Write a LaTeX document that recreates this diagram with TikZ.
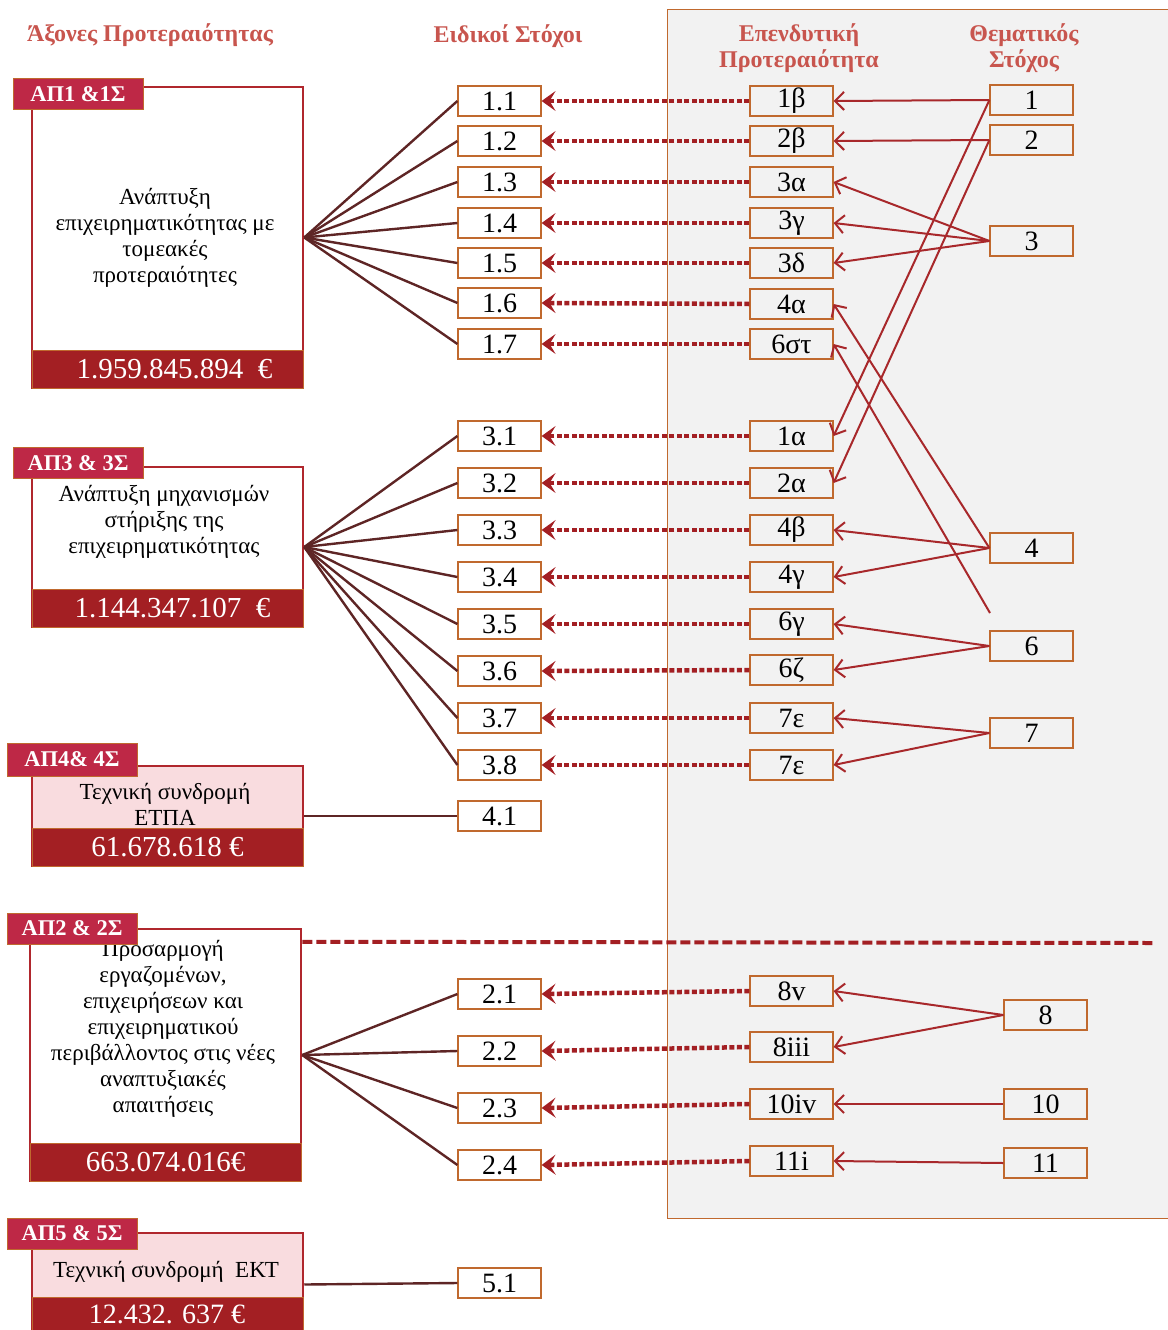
\documentclass[tikz,border=0pt]{standalone}
\usepackage{fontspec}
\setmainfont{Liberation Serif}
\usetikzlibrary{arrows.meta,positioning}
\definecolor{panelgray}{HTML}{F2F2F2}
\definecolor{boxedge}{HTML}{C0692E}
\definecolor{tagred}{HTML}{BE2846}
\definecolor{bandred}{HTML}{A31F23}
\definecolor{axedge}{HTML}{B0272D}
\definecolor{pinkfill}{HTML}{F9DCDF}
\definecolor{fanbrown}{HTML}{5E2525}
\definecolor{arrred}{HTML}{A8282B}
\definecolor{headred}{HTML}{C8554E}

\begin{document}
\begin{tikzpicture}
	[x=1pt,y=-1pt,
	smallbox/.style={draw=boxedge,line width=1.2pt,inner sep=0pt,minimum width=83pt,
		minimum height=30pt,font=\fontsize{28}{30}\selectfont},
	sobox/.style={smallbox,fill=white},
	ipbox/.style={smallbox,fill=panelgray},
	axbox/.style={draw=axedge,line width=2.5pt,minimum width=271pt,inner sep=0pt},
	band/.style={fill=bandred,draw=boxedge,line width=0.8pt,minimum width=271pt,
		minimum height=38pt,inner sep=0pt,text=white,font=\fontsize{29}{30}\selectfont},
	tag/.style={fill=tagred,draw=boxedge,line width=0.8pt,minimum width=130pt,
		minimum height=31pt,inner sep=0pt,text=white,font=\fontsize{22.5}{24}\selectfont\bfseries},
	axtext/.style={align=center,font=\fontsize{23}{26}\selectfont},
	head/.style={align=center,text=headred,font=\fontsize{24}{26}\selectfont\bfseries},
	fan/.style={draw=fanbrown,line width=2.4pt},
	dotarrow/.style={draw=bandred,line width=4.5pt,dash pattern=on 5pt off 2.5pt,
		-{Stealth[length=14pt,width=20pt,inset=6pt]}},
	toarrow/.style={draw=arrred,line width=2pt,-{Straight Barb[length=9pt,width=18pt]}}]
	\useasboundingbox (0,0) rectangle (1167,1330);
	% panel
	\fill[panelgray,draw=boxedge,line width=1pt] (667,10) rectangle (1180,1218);
	% headers
	\node[head] (h1) at (150,35) {Άξονες Προτεραιότητας};
	\node[head] (h2) at (508,36) {Ειδικοί Στόχοι};
	\node[head] (h3) at (799,48) {Επενδυτική\\Προτεραιότητα};
	\node[head] (h4) at (1024,48) {Θεματικός\\Στόχος};
	% axes
	\node[axbox,minimum height=301pt] (ax1) at (167.5,237.5) {};
	\node[band] (b1) at (167.5,369) {\hspace{14pt}1.959.845.894\ \ €};
	\node[axtext] (x1) at (165,238) {Ανάπτυξη\\επιχειρηματικότητας με\\τομεακές\\προτεραιότητες};
	\node[tag] (g1) at (78,94) {ΑΠ1 \&1Σ};
	\node[axbox,minimum height=160pt] (ax3) at (167.5,547) {};
	\node[band] (b3) at (167.5,608) {\hspace{10pt}1.144.347.107\ \ €};
	\node[axtext] (x3) at (164,522) {Ανάπτυξη μηχανισμών\\στήριξης της\\επιχειρηματικότητας};
	\node[tag] (g3) at (78,463) {ΑΠ3 \& 3Σ};
	\node[axbox,fill=pinkfill,minimum height=100pt] (ax4) at (167.5,816) {};
	\node[band] (b4) at (167.5,847) {61.678.618 €};
	\node[axtext] (x4) at (165,804) {Τεχνική συνδρομή\\ΕΤΠΑ};
	\node[tag,minimum height=33pt] (g4) at (72,759.5) {ΑΠ4\& 4Σ};
	\node[axbox,minimum height=252pt] (ax2) at (165.5,1055) {};
	\node[band] (b2) at (165.5,1162) {663.074.016€};
	\node[axtext] (x2) at (163,1029) {Προσαρμογή\\εργαζομένων,\\επιχειρήσεων και\\επιχειρηματικού\\περιβάλλοντος στις νέες\\αναπτυξιακές\\απαιτήσεις};
	\node[tag] (g2) at (72,928.5) {ΑΠ2 \& 2Σ};
	\node[axbox,fill=pinkfill,minimum height=107pt] (ax5) at (167.5,1286.5) {};
	\node[band,minimum height=43pt] (b5) at (167.5,1318.5) {};
	\node[text=white,font=\fontsize{28}{30}\selectfont] (v5) at (167,1314) {12.432. 637 €};
	\node[axtext] (x5) at (166,1272) {Τεχνική συνδρομή\ \ ΕΚΤ};
	\node[tag] (g5) at (72,1233.5) {ΑΠ5 \& 5Σ};
	% separator
	\draw[bandred,line width=4pt,dash pattern=on 10pt off 4pt] (ax2.north east) ++(0,14) -- (1153,943);
	% specific objectives
	\foreach \n/\y/\t in {s11/101/1.1,s12/141/1.2,s13/182/1.3,s14/223/1.4,s15/263/1.5,
		s16/303/1.6,s17/344/1.7,s31/436/3.1,s32/483/3.2,s33/530/3.3,s34/577/3.4,
		s35/624/3.5,s36/671/3.6,s37/718/3.7,s38/765/3.8,s41/816/4.1,
		s21/994/2.1,s22/1051/2.2,s23/1108/2.3,s24/1165/2.4,s51/1283/5.1}
	\node[sobox] (\n) at (499.5,\y) {\t};
	% investment priorities
	\foreach \n/\y/\t in {p1b/101/1β,p2b/141/2β,p3a/182/3α,p3g/223/3γ,p3d/263/3δ,
		p4a/304/4α,p6st/344/6στ,p1a/436/1α,p2a/483/2α,p4b/530/4β,p4g/577/4γ,
		p6g/624/6γ,p6z/670/6ζ,p7e/718/7ε,p7f/765/7ε,
		p8v/991/8v,p8iii/1047/8iii,p10iv/1104/10iv,p11i/1161/11i}
	\node[ipbox] (\n) at (791.5,\y) {\t};
	% thematic objectives
	\foreach \n/\x/\y/\t in {t1/1031.5/100/1,t2/1031.5/140/2,t3/1031.5/241/3,
		t4/1031.5/548/4,t6/1031.5/646/6,t7/1031.5/733/7,
		t8/1045.5/1015/8,t10/1045.5/1104/10,t11/1045.5/1163/11}
	\node[ipbox] (\n) at (\x,\y) {\t};
	\coordinate (c6) at (990,613);
	% fans
	\foreach \s in {s11,s12,s13,s14,s15,s16,s17}
	\draw[fan] (ax1.east) -- (\s.west);
	\foreach \s in {s31,s32,s33,s34,s35,s36,s37,s38}
	\draw[fan] (ax3.east) -- (\s.west);
	\foreach \s in {s21,s22,s23,s24}
	\draw[fan] (ax2.east) -- (\s.west);
	\draw[fan] (ax4.east) -- (s41.west);
	\draw[fan] (ax5.east) ++(0,-2) -- (s51.west);
	% dotted links
	\foreach \p/\s in {p1b/s11,p2b/s12,p3a/s13,p3g/s14,p3d/s15,p4a/s16,p6st/s17,
		p1a/s31,p2a/s32,p4b/s33,p4g/s34,p6g/s35,p6z/s36,p7e/s37,p7f/s38,
		p8v/s21,p8iii/s22,p10iv/s23,p11i/s24}
	\draw[dotarrow] (\p.west) -- (\s.east);
	% thematic links
	\foreach \t/\p in {t1/p1b,t1/p1a,t2/p2b,t2/p2a,t3/p3a,t3/p3g,t3/p3d,
		t4/p4a,t4/p4b,t4/p4g,t6/p6g,t6/p6z,t7/p7e,t7/p7f,
		t8/p8v,t8/p8iii,t10/p10iv,t11/p11i}
	\draw[toarrow] (\t.west) -- (\p.east);
	\draw[toarrow] (c6) -- (p6st.east);
\end{tikzpicture}
\end{document}
